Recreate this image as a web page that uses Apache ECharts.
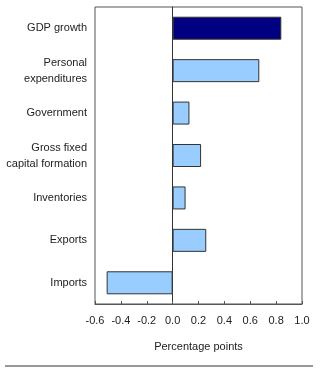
<!DOCTYPE html>
<html>
<head>
<meta charset="utf-8">
<style type="text/css">
html, body { margin: 0; padding: 0; background: #fff; }
#chart { width: 320px; height: 371px; }
</style>
<script type="text/javascript" src="https://cdn.jsdelivr.net/npm/echarts@6/dist/echarts.min.js"></script>
</head>
<body>
<div id="chart"></div>
<script type="text/javascript">
var categories = ['GDP growth', 'Personal\nexpenditures', 'Government', 'Gross fixed\ncapital formation', 'Inventories', 'Exports', 'Imports'];
var values = [0.84, 0.67, 0.13, 0.22, 0.10, 0.26, -0.51];
var barColors = ['#000080', '#99ccff', '#99ccff', '#99ccff', '#99ccff', '#99ccff', '#99ccff'];
var axisTitle = 'Percentage points';

var chart = echarts.init(document.getElementById('chart'));
var font = 'Liberation Sans, Arial, sans-serif';

chart.setOption({
	animation: false,
	grid: {
		left: 95,
		right: 18,
		top: 7,
		bottom: 67,
		show: true,
		borderColor: '#555',
		borderWidth: 1
	},
	xAxis: {
		type: 'value',
		min: -0.6,
		max: 1.0,
		interval: 0.2,
		name: axisTitle,
		nameLocation: 'middle',
		nameGap: 37,
		nameTextStyle: { color: '#222', fontFamily: font, fontSize: 11 },
		splitLine: { show: false },
		axisLine: { show: true, lineStyle: { color: '#555' } },
		axisTick: { show: true, inside: true, length: 3, lineStyle: { color: '#555' } },
		axisLabel: {
			color: '#222', fontFamily: font, fontSize: 11, margin: 11,
			formatter: function (v) { return v.toFixed(1); }
		}
	},
	yAxis: {
		type: 'category',
		inverse: true,
		data: categories,
		axisLine: { show: true, onZero: true, lineStyle: { color: '#333' } },
		axisTick: { show: false },
		axisLabel: { color: '#222', fontFamily: font, fontSize: 11, lineHeight: 16, margin: 8 }
	},
	series: [{
		type: 'bar',
		barWidth: 23,
		data: values.map(function (v, i) {
			return { value: v, itemStyle: { color: barColors[i] } };
		}),
		itemStyle: { borderColor: '#333', borderWidth: 1 }
	}],
	graphic: [{
		type: 'line',
		shape: { x1: 5, y1: 366, x2: 313, y2: 366 },
		style: { stroke: '#333', lineWidth: 1 }
	}]
});
</script>
</body>
</html>
